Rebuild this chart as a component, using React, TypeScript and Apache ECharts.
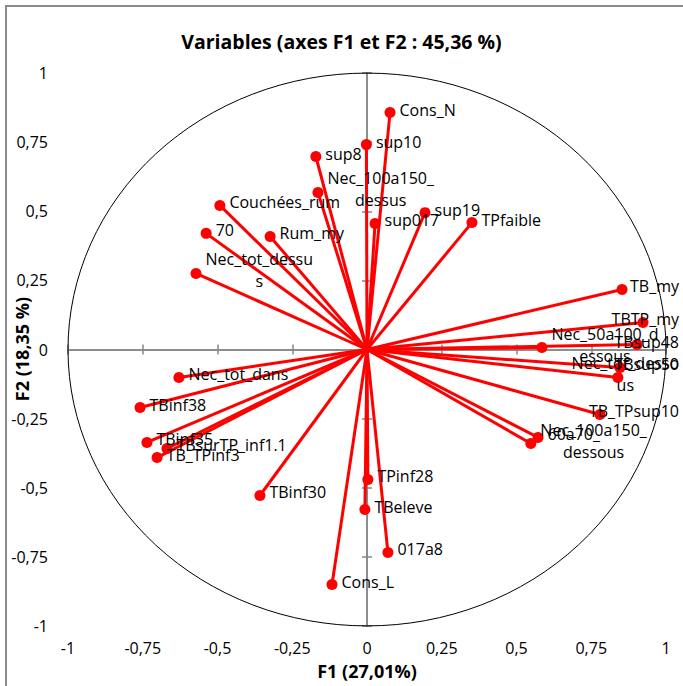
import React, { useEffect, useRef } from "react";
import * as echarts from "echarts";

const names = [
  "Cons_N", "sup10", "sup8", "Nec_100a150_dessus", "Couchées_rum", "70", "Rum_my",
  "Nec_tot_dessus", "sup017", "sup19", "TPfaible", "TB_my", "TBTP_my",
  "Nec_50a100_dessous", "TBsup48", "TBsup50", "Nec_tot_dessous", "TB_TPsup10",
  "60a70_", "Nec_100a150_dessous", "Nec_tot_dans", "TBinf38", "TBinf35",
  "TBsurTP_inf1.1", "TB_TPinf3", "TBinf30", "TPinf28", "TBeleve", "017a8", "Cons_L",
];
const labelText = [
  "Cons_N", "sup10", "sup8", "Nec_100a150_\ndessus", "Couchées_rum", "70", "Rum_my",
  "Nec_tot_dessu\ns", "sup017", "sup19", "TPfaible", "TB_my", "TBTP_my",
  "Nec_50a100_d\nessous", "TBsup48", "TBsup50", "Nec_tot_desso\nus", "TB_TPsup10",
  "60a70_", "Nec_100a150_\ndessous", "Nec_tot_dans", "TBinf38", "TBinf35",
  "TBsurTP_inf1.1", "TB_TPinf3", "TBinf30", "TPinf28", "TBeleve", "017a8", "Cons_L",
];
const f1 = [
  0.077, -0.002, -0.171, -0.164, -0.492, -0.538, -0.324,
  -0.572, 0.027, 0.194, 0.351, 0.853, 0.923,
  0.585, 0.903, 0.846, 0.839, 0.779,
  0.572, 0.548, -0.629, -0.759, -0.736,
  -0.669, -0.702, -0.358, 0.003, -0.007, 0.07, -0.117,
];
const f2 = [
  0.857, 0.741, 0.698, 0.568, 0.521, 0.42, 0.409,
  0.275, 0.456, 0.495, 0.459, 0.217, 0.098,
  0.007, 0.018, -0.065, -0.101, -0.235,
  -0.318, -0.34, -0.101, -0.21, -0.336,
  -0.358, -0.391, -0.528, -0.47, -0.579, -0.734, -0.85,
];
const tickLabels = ["-1", "-0,75", "-0,5", "-0,25", "0", "0,25", "0,5", "0,75", "1"];
const circleRadius = [1];
const xTitle = "F1 (27,01%)";
const yTitle = "F2 (18,35 %)";

const AXIS_GRAY = "#868686";
const RED = "#ff0000";
const FONT = "Open Sans";

const fmt = (v: number) => tickLabels[Math.round((v + 1) / 0.25)] ?? "";

export default function App() {
  const ref = useRef<HTMLDivElement>(null);
  useEffect(() => {
    document.body.style.margin = "0";
    if (!ref.current) return;
    const chart = echarts.init(ref.current, undefined, { renderer: "svg" });
    const points = names.map((n, i) => ({ name: n, value: [f1[i], f2[i]], label: labelText[i] }));

    const crossX = (inside: boolean) => ({
      type: "value", min: -1, max: 1, interval: 0.25, position: "bottom",
      axisLine: { show: true, onZero: true, onZeroAxisIndex: 0, lineStyle: { color: AXIS_GRAY, width: 1.5 } },
      axisTick: { show: true, inside, length: 5, lineStyle: { color: AXIS_GRAY, width: 1.5 } },
      axisLabel: { show: false }, splitLine: { show: false },
    });
    const crossY = (inside: boolean) => ({
      type: "value", min: -1, max: 1, interval: 0.25, position: "left",
      axisLine: { show: true, onZero: true, onZeroAxisIndex: 0, lineStyle: { color: AXIS_GRAY, width: 1.5 } },
      axisTick: { show: true, inside, length: 5, lineStyle: { color: AXIS_GRAY, width: 1.5 } },
      axisLabel: { show: false }, splitLine: { show: false },
    });

    chart.setOption({
      animation: false,
      textStyle: { fontFamily: FONT },
      title: {
        text: "Variables (axes F1 et F2 : 45,36 %)",
        left: "center", top: 26,
        textStyle: { fontFamily: FONT, fontWeight: "bold", fontSize: 19.5, color: "#000" },
      },
      graphic: [
        { type: "rect", shape: { x: 6, y: 6, width: 700, height: 700 }, style: { fill: "none", stroke: "#8c8c8c", lineWidth: 2 }, silent: true },
        {
          type: "text", x: 22, y: 349, rotation: Math.PI / 2, silent: true,
          style: { text: yTitle, fontFamily: FONT, fontWeight: "bold", fontSize: 18, fill: "#000", align: "center", verticalAlign: "middle" },
        },
      ],
      grid: { left: 68, right: 17, top: 73, bottom: 60, containLabel: false, outerBoundsMode: "none" },
      xAxis: [
        {
          type: "value", min: -1, max: 1, interval: 0.25, position: "bottom",
          axisLine: { show: false, onZero: false }, axisTick: { show: false }, splitLine: { show: false },
          axisLabel: { formatter: fmt, fontSize: 16, color: "#000", margin: 14, fontFamily: FONT },
          name: xTitle, nameLocation: "middle", nameGap: 36,
          nameTextStyle: { fontWeight: "bold", fontSize: 18, color: "#000", fontFamily: FONT },
        },
        crossX(true),
        crossX(false),
      ],
      yAxis: [
        {
          type: "value", min: -1, max: 1, interval: 0.25, position: "left",
          axisLine: { show: false, onZero: false }, axisTick: { show: false }, splitLine: { show: false },
          axisLabel: { formatter: fmt, fontSize: 16, color: "#000", margin: 20, fontFamily: FONT },
        },
        crossY(true),
        crossY(false),
      ],
      series: [
        {
          type: "custom", xAxisIndex: 0, yAxisIndex: 0, silent: true, z: 1,
          data: circleRadius.map((r) => [0, 0, r]),
          renderItem: (params: any, api: any) => {
            const c = api.coord([api.value(0), api.value(1)]);
            const s = api.size([api.value(2), api.value(2)]);
            const rx = s[0], ry = s[1];
            const d = `M ${c[0] - rx} ${c[1]} A ${rx} ${ry} 0 1 0 ${c[0] + rx} ${c[1]} A ${rx} ${ry} 0 1 0 ${c[0] - rx} ${c[1]} Z`;
            return { type: "path", shape: { pathData: d }, style: { fill: "none", stroke: "#000", lineWidth: 1 } };
          },
        },
        {
          type: "custom", xAxisIndex: 0, yAxisIndex: 0, silent: true, z: 2,
          data: points.map((p) => p.value),
          renderItem: (params: any, api: any) => {
            const o = api.coord([0, 0]);
            const p = api.coord([api.value(0), api.value(1)]);
            return { type: "line", shape: { x1: o[0], y1: o[1], x2: p[0], y2: p[1] }, style: { stroke: RED, lineWidth: 3 } };
          },
        },
        {
          type: "scatter", xAxisIndex: 0, yAxisIndex: 0, z: 3,
          symbol: "circle", symbolSize: 11,
          itemStyle: { color: RED, opacity: 1, borderWidth: 0 },
          data: points.map((p) => ({ name: p.name, value: p.value, label: { formatter: p.label } })),
          label: {
            show: true, position: "right", color: "#000", fontSize: 16, fontFamily: FONT, lineHeight: 22,
          },
          labelLayout: (p: any) => {
            const w = p.labelRect.width;
            let cx = p.rect.x + p.rect.width + 4 + w / 2;
            if (cx + w / 2 > 679) cx = 679 - w / 2;
            return { x: cx, y: p.rect.y + p.rect.height / 2 - 3, align: "center", verticalAlign: "middle" };
          },
        },
      ],
    });
    return () => chart.dispose();
  }, []);
  return <div ref={ref} style={{ width: 683, height: 686 }} />;
}
